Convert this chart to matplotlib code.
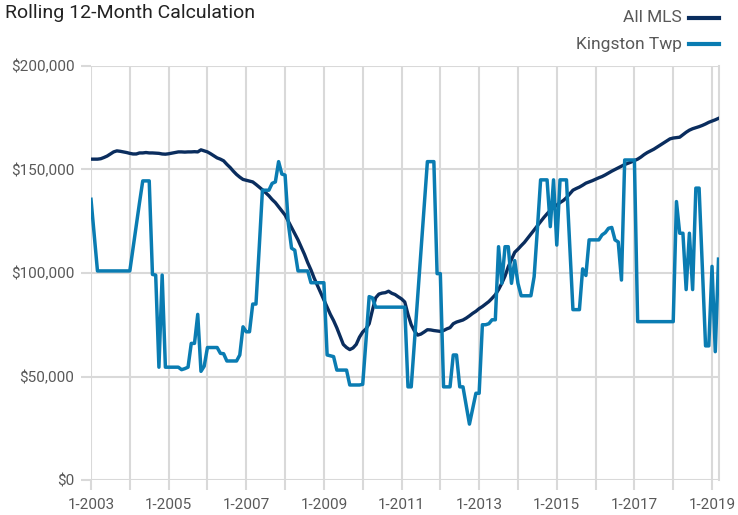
import numpy as np
import matplotlib
matplotlib.use("Agg")
import matplotlib.pyplot as plt
from matplotlib.lines import Line2D
from matplotlib.ticker import FuncFormatter

plt.rcParams['font.family'] = ['Roboto', 'DejaVu Sans']

# monthly rolling 12-month values (thousands of $), Jan 2003 .. Mar 2019
all_mls = [
    155, 155, 155, 155.2, 155.8, 156.5, 157.5, 158.5, 159, 158.8, 158.5, 158.2,
    157.8, 157.5, 157.5, 158, 158, 158.2, 158, 158, 157.9, 157.8, 157.5, 157.4,
    157.6, 157.9, 158.2, 158.5, 158.5, 158.4, 158.5, 158.5, 158.6, 158.5, 159.5, 159,
    158.5, 157.6, 156.6, 155.6, 155, 154.2, 152.5, 151, 149.2, 147.6, 146.3, 145.2,
    144.8, 144.4, 144, 142.8, 141.5, 140.2, 138.8, 137.3, 135.5, 134, 132, 130,
    128, 125, 122, 119, 116, 112.5, 109, 105, 101.5, 97.5, 94, 90.5,
    87, 83.5, 80, 77, 73.5, 69.5, 65.5, 64, 63, 63.8, 65.5, 69,
    71.5, 73, 75.5, 82, 88, 89.8, 90.3, 90.5, 91.2, 90.2, 89.6, 88.5,
    87.5, 86, 80, 75, 72, 70, 70.5, 71.5, 72.6, 72.5, 72.2, 72,
    71.8, 72.2, 73, 73.6, 75.5, 76.3, 76.8, 77.3, 78.2, 79.3, 80.5, 81.5,
    82.8, 83.8, 85, 86.2, 87.8, 89.5, 92, 95, 98.5, 103, 106.5, 110,
    111.5, 113.2, 114.8, 116.8, 118.8, 120.8, 122.8, 124.8, 126.8, 128.6, 130.3, 131.6,
    132.8, 134, 135, 136.4, 138.2, 140, 140.8, 141.5, 142.4, 143.4, 144, 144.6,
    145.3, 146, 146.6, 147.4, 148.3, 149.2, 150, 150.8, 151.6, 152.4, 153, 153.6,
    154.3, 155, 156, 157.2, 158.2, 159, 159.8, 160.8, 161.8, 162.8, 163.8, 164.8,
    165.2, 165.4, 165.6, 166.8, 168, 169, 169.7, 170.2, 170.7, 171.3, 172, 172.8,
    173.4, 174, 174.7,
]

kingston = [
    135.6, 118, 101, 101, 101, 101, 101, 101, 101, 101, 101, 101,
    101, 112, 123, 134, 144.5, 144.5, 144.5, 99.3, 99, 54.5, 99, 54.5,
    54.5, 54.5, 54.5, 54.5, 53.3, 53.8, 54.5, 66, 66, 80, 52.5, 55,
    64, 64, 64, 64, 61.2, 61, 57.5, 57.5, 57.5, 57.5, 60.4, 74,
    71.6, 71.6, 85, 85, 112, 140, 140, 140, 143.3, 144, 153.8, 147.8,
    147.3, 124, 112, 111, 101, 101, 101, 101, 95.3, 95.3, 95.3, 95.3,
    95.3, 60.4, 60, 59.6, 53.1, 53.1, 53.1, 53.1, 45.9, 45.9, 45.9, 45.9,
    46.2, 67, 88.6, 88, 83.5, 83.5, 83.5, 83.5, 83.5, 83.5, 83.5, 83.5,
    83.5, 83.5, 45, 45, 66.7, 88.5, 110, 132, 153.8, 153.8, 153.8, 99.7,
    99.7, 45, 45, 45, 60.4, 60.4, 45, 45, 36, 27, 34.5, 41.9,
    41.9, 75, 75, 75.5, 77.4, 77.4, 112.7, 95, 112.7, 112.7, 95, 106,
    95, 89, 89, 89, 89, 98.2, 121, 145, 145, 145, 122.4, 145,
    113.5, 145, 145, 145, 114, 82.3, 82.3, 82.3, 102, 98.8, 116, 116,
    116, 116, 118.4, 119.5, 121.6, 122, 116, 115, 96.6, 154.6, 154.6, 154.6,
    154.6, 76.5, 76.5, 76.5, 76.5, 76.5, 76.5, 76.5, 76.5, 76.5, 76.5, 76.5,
    76.5, 134.5, 119.2, 119.2, 92, 119.2, 92, 141, 141, 103, 64.8, 64.8,
    103.2, 62, 106.7,
]

start_year = 2003
end_year = 2019
y_ticks = [0, 50000, 100000, 150000, 200000]

navy = '#0a2d5e'
blue = '#0a7cb2'
grid = '#d9d9d9'
txt = '#595959'

months = np.arange(len(all_mls))
mls = np.array(all_mls) * 1000
kt = np.array(kingston) * 1000

fig = plt.figure(figsize=(7.38, 5.15), dpi=100)
ax = fig.add_axes([91 / 738, 1 - 480 / 515, (718.5 - 91) / 738, (480 - 66) / 515])

ax.plot(months, mls, color=navy, lw=2.4, zorder=3, solid_joinstyle='round')
ax.plot(months, kt, color=blue, lw=2.5, zorder=4, solid_joinstyle='round')

ax.set_xlim(0, len(all_mls) - 1)
ax.set_ylim(0, 200000)

year_pos = [(y - start_year) * 12 for y in range(start_year, end_year + 1)]
year_lab = ['1-%d' % y if (y - start_year) % 2 == 0 else '' for y in range(start_year, end_year + 1)]
ax.set_xticks(year_pos)
ax.set_xticklabels(year_lab)
ax.set_yticks(y_ticks)
ax.yaxis.set_major_formatter(FuncFormatter(lambda v, p: '${:,.0f}'.format(v)))

ax.grid(True, color=grid, lw=1.5, zorder=0)
ax.set_axisbelow(True)
for s in ['top', 'left', 'bottom']:
    ax.spines[s].set_visible(False)
ax.spines['right'].set_color(grid)
ax.spines['right'].set_linewidth(1.5)
ax.tick_params(axis='both', length=7, width=1.5, color=grid, labelcolor=txt, labelsize=11)
ax.tick_params(axis='x', pad=6)
ax.tick_params(axis='y', pad=5)

fig.text(5 / 738, 1 - 13 / 515, 'Rolling 12-Month Calculation', fontsize=14, color='#222222',
         ha='left', va='center')

legend_items = [('All MLS', navy, 18), ('Kingston Twp', blue, 44)]
for lab, col, ypx in legend_items:
    fig.text(682 / 738, 1 - ypx / 515, lab, fontsize=12.5, color=txt, ha='right', va='center')
    fig.add_artist(Line2D([689 / 738, 719 / 738], [1 - ypx / 515, 1 - ypx / 515],
                          transform=fig.transFigure, color=col, lw=3))

fig.savefig('out.png', dpi=100)
